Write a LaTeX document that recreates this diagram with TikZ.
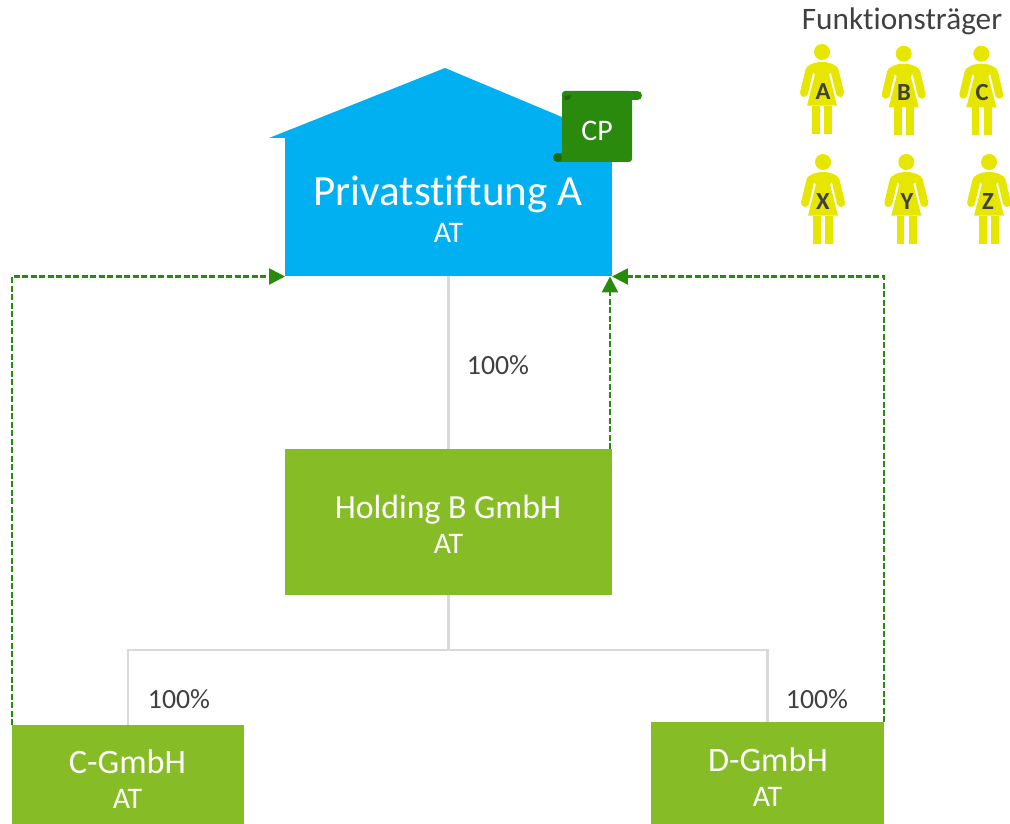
\documentclass[tikz,border=0pt]{standalone}
\usepackage{fontspec}
\setmainfont{Carlito}[Ligatures=NoCommon]
\usetikzlibrary{arrows.meta}

\definecolor{stiftungblue}{HTML}{00B0F0}
\definecolor{gmbhgreen}{HTML}{86BC25}
\definecolor{linkgreen}{HTML}{2A8A0E}
\definecolor{curlgreen}{HTML}{1E6A0A}
\definecolor{personyellow}{HTML}{E6E600}
\definecolor{linegray}{HTML}{D9D9D9}
\definecolor{textgray}{HTML}{404040}

\tikzset{
  box/.style={inner sep=0pt, outer sep=0pt},
  share/.style={draw=linegray, line width=0.05cm},
  control/.style={draw=linkgreen, line width=0.05cm, dash pattern=on 0.12cm off 0.05cm,
    -{Triangle[length=0.32cm,width=0.32cm]}},
  person/.pic={
    \fill [personyellow] (0,0) circle (8);
    \fill [personyellow] (0,10) .. controls (-6,10) and (-11,11.5) .. (-15,15) -- (-7,22.3)
      -- (-15,53.7) -- (15,53.7) -- (7,22.3) -- (15,15) .. controls (11,11.5) and (6,10) .. (0,10) -- cycle;
    \draw [personyellow, line width=0.16cm, line cap=round] (-12.5,18) -- (-18,41);
    \draw [personyellow, line width=0.16cm, line cap=round] (12.5,18) -- (18,41);
    \fill [personyellow] (-9.7,53.7) rectangle (-2,81.7);
    \fill [personyellow] (2.3,53.7) rectangle (10.3,81.7);
  }
}

\begin{document}
\begin{tikzpicture}[x=0.02cm,y=-0.02cm]
  \useasboundingbox (0,0) rectangle (1010,824);

  % house
  \fill [stiftungblue] (269,138) -- (445,68) -- (612,138) -- (612,140) -- (285,140) -- (285,138) -- cycle;
  \node [box, fill=stiftungblue, minimum width=6.54cm, minimum height=2.78cm] (stiftung) at (448.5,207) {};
  \node [text=white, font=\fontsize{24.5}{28}\selectfont] (stiftungname) at (448,194) {Privatstiftung A};
  \node [text=white, font=\fontsize{17}{20}\selectfont] (stiftungland) at (448.5,233) {AT};

  % scroll
  \fill [linkgreen, rounded corners=0.06cm] (562,91) rectangle (632,162);
  \fill [linkgreen] (620,91) rectangle (637.5,100);
  \fill [linkgreen] (637.5,95.5) circle (4.5);
  \fill [linkgreen] (557.5,153) rectangle (575,162);
  \fill [curlgreen] (557.5,157.5) circle (4.5);
  \fill [curlgreen] (564,96) -- (571,95) -- (570,99) -- (565,100.5) -- cycle;
  \node [text=white, font=\fontsize{17}{20}\selectfont] (cp) at (597,131) {CP};

  % companies
  \node [box, fill=gmbhgreen, minimum width=6.54cm, minimum height=2.92cm] (holding) at (448.5,522) {};
  \node [text=white, font=\fontsize{19.2}{22}\selectfont] (holdingname) at (448,510) {Holding B GmbH};
  \node [text=white, font=\fontsize{17}{20}\selectfont] (holdingland) at (448.5,544) {AT};

  \node [box, fill=gmbhgreen, minimum width=4.64cm, minimum height=1.98cm] (cgmbh) at (128,774.5) {};
  \node [text=white, font=\fontsize{19.5}{22}\selectfont] (cname) at (127.5,762) {C-GmbH};
  \node [text=white, font=\fontsize{17}{20}\selectfont] (cland) at (127.5,799) {AT};

  \node [box, fill=gmbhgreen, minimum width=4.66cm, minimum height=2.04cm] (dgmbh) at (767.5,773) {};
  \node [text=white, font=\fontsize{19.5}{22}\selectfont] (dname) at (768,760) {D-GmbH};
  \node [text=white, font=\fontsize{17}{20}\selectfont] (dland) at (767.5,797) {AT};

  % shares
  \coordinate (bus) at (448.5,650);
  \draw [share] (stiftung.south) -- (holding.north);
  \draw [share] (holding.south) -- (bus);
  \draw [share] (bus) -| (cgmbh.north);
  \draw [share] (bus) -| (dgmbh.north);
  \node [text=textgray, font=\fontsize{15.8}{18}\selectfont] (share1) at (498,365) {100\%};
  \node [text=textgray, font=\fontsize{15.8}{18}\selectfont] (share2) at (179,699) {100\%};
  \node [text=textgray, font=\fontsize{15.8}{18}\selectfont] (share3) at (817,699) {100\%};

  % control
  \draw [control] (cgmbh.north west) |- (stiftung.south west);
  \draw [control] (dgmbh.north east) |- (stiftung.south east);
  \draw [control] ([xshift=-0.04cm]holding.north east) -- ([xshift=-0.04cm]stiftung.south east);

  % persons
  \node [text=textgray, font=\fontsize{17.8}{20}\selectfont] (funktion) at (902,21) {Funktionsträger};
  \pic at (822,52) {person};
  \pic at (903.7,53.7) {person};
  \pic at (981.3,53.7) {person};
  \pic at (823,162) {person};
  \pic at (906.3,162) {person};
  \pic at (989,162) {person};
  \node [text=textgray, font=\bfseries\fontsize{14}{16}\selectfont] (persa) at (823,92) {A};
  \node [text=textgray, font=\bfseries\fontsize{14}{16}\selectfont] (persb) at (904,93) {B};
  \node [text=textgray, font=\bfseries\fontsize{14}{16}\selectfont] (persc) at (982,93) {C};
  \node [text=textgray, font=\bfseries\fontsize{14}{16}\selectfont] (persx) at (823,202) {X};
  \node [text=textgray, font=\bfseries\fontsize{14}{16}\selectfont] (persy) at (907,202) {Y};
  \node [text=textgray, font=\bfseries\fontsize{14}{16}\selectfont] (persz) at (988,202) {Z};
\end{tikzpicture}
\end{document}
